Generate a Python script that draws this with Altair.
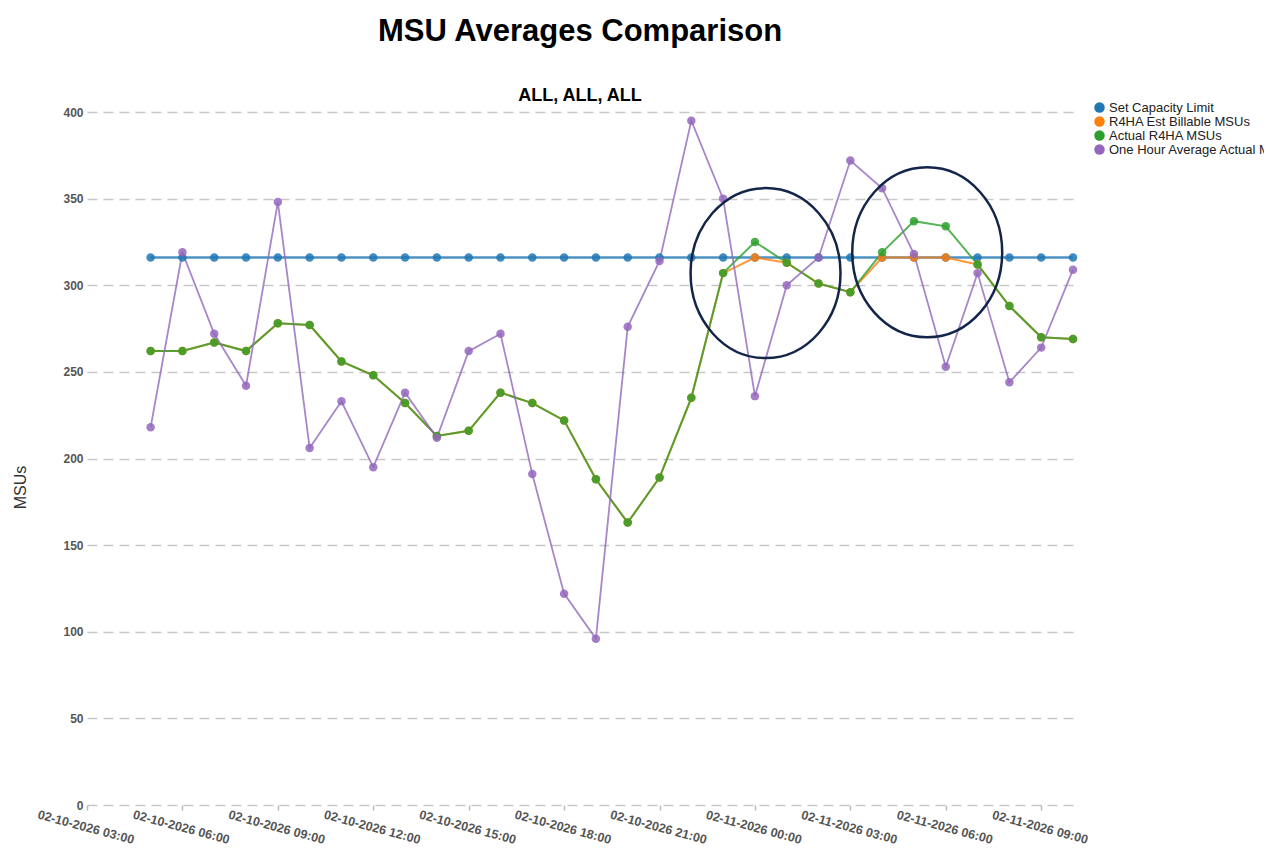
import altair as alt
import pandas as pd

# hourly timestamps 02-10-2026 05:00 .. 02-11-2026 10:00
times = pd.date_range("2026-02-10 05:00", "2026-02-11 10:00", freq="h").strftime("%Y-%m-%dT%H:%M:%S").tolist()

series_names = ["Set Capacity Limit", "R4HA Est Billable MSUs", "Actual R4HA MSUs", "One Hour Average Actual MSUs"]
series_colors = ["#1f77b4", "#ff7f0e", "#2ca02c", "#9467bd"]

capacity_limit = [316] * 30
est_billable = [262, 262, 267, 262, 278, 277, 256, 248, 232, 213,
                216, 238, 232, 222, 188, 163, 189, 235, 307, 316,
                313, 301, 296, 316, 316, 316, 312, 288, 270, 269]
actual_r4ha = [262, 262, 267, 262, 278, 277, 256, 248, 232, 213,
               216, 238, 232, 222, 188, 163, 189, 235, 307, 325,
               313, 301, 296, 319, 337, 334, 312, 288, 270, 269]
one_hour_avg = [218, 319, 272, 242, 348, 206, 233, 195, 238, 212,
                262, 272, 191, 122, 96, 276, 314, 395, 350, 236,
                300, 316, 372, 356, 318, 253, 307, 244, 264, 309]

# x-axis tick positions (every 3 hours)
tick_days = [10, 10, 10, 10, 10, 10, 10, 11, 11, 11, 11]
tick_hours = [3, 6, 9, 12, 15, 18, 21, 0, 3, 6, 9]

# annotation ellipse centres (time, MSU value)
highlight_times = ["2026-02-11T00:20:00", "2026-02-11T05:25:00"]
highlight_values = [307, 319]

all_values = [capacity_limit, est_billable, actual_r4ha, one_hour_avg]
rows = []
for name, vals in zip(series_names, all_values):
    for t, v in zip(times, vals):
        rows.append({"series": name, "time": t, "value": v})
df = pd.DataFrame(rows)
ann = pd.DataFrame({"time": highlight_times, "value": highlight_values})

tick_values = [alt.DateTime(year=2026, month=2, date=d, hours=h) for d, h in zip(tick_days, tick_hours)]

x_scale = alt.Scale(domain=[alt.DateTime(year=2026, month=2, date=10, hours=3),
                            alt.DateTime(year=2026, month=2, date=11, hours=10)])
y_scale = alt.Scale(domain=[0, 400], nice=False)

x_enc = alt.X("time:T", scale=x_scale, axis=alt.Axis(
    title=None, format="%m-%d-%Y %H:%M", values=tick_values,
    labelAngle=15, labelAlign="center", labelBaseline="top", labelPadding=11,
    tickSize=5, tickColor="#bbbbbb", tickWidth=1.5, domain=False, grid=False,
    labelFontSize=12.5, labelFontWeight="bold", labelColor="#555555",
    labelOverlap=False, labelFlush=False))
y_enc = alt.Y("value:Q", scale=y_scale, axis=alt.Axis(
    title="MSUs", values=list(range(0, 401, 50)), domain=False, ticks=False,
    labelPadding=4, gridDash=[10, 6], gridColor="#c8c8c8", gridWidth=1.5,
    labelFontSize=12, labelFontWeight="bold", labelColor="#555555",
    titleFontSize=16, titleFontWeight="normal", titleColor="#333333",
    titleX=-67, titleY=375, titleAngle=270, titleBaseline="middle"))

base = alt.Chart(df)

line_widths = [2.5, 2, 2, 1.8]
lines = []
for name, col, w in zip(series_names, series_colors, line_widths):
    lines.append(
        base.transform_filter(alt.datum.series == name)
        .mark_line(strokeWidth=w, opacity=0.8)
        .encode(x=x_enc, y=y_enc, color=alt.value(col))
    )

points = base.mark_circle(size=72, opacity=0.85).encode(
    x=x_enc, y=y_enc,
    color=alt.Color("series:N", sort=series_names,
                    scale=alt.Scale(domain=series_names, range=series_colors),
                    legend=alt.Legend(title=None, orient="none", legendX=1006, legendY=-11,
                                      symbolType="circle", symbolSize=110, symbolOpacity=1,
                                      labelFontSize=13, labelColor="#222222", rowPadding=-2,
                                      labelOffset=3, padding=0, labelLimit=400))
)

ellipse_path = "M -0.882 0 A 0.882 1 0 1 0 0.882 0 A 0.882 1 0 1 0 -0.882 0 Z"
ellipses = alt.Chart(ann).mark_point(shape=ellipse_path, size=28900, filled=False,
                                     color="#14254a", strokeWidth=2.5, opacity=1).encode(
    x=alt.X("time:T", scale=x_scale), y=alt.Y("value:Q", scale=y_scale)
)

chart = alt.layer(*lines, points, ellipses).properties(
    width=986, height=693,
    title=alt.Title("MSU Averages Comparison", subtitle="ALL, ALL, ALL",
                    fontSize=31, fontWeight="bold", color="#000000",
                    subtitleFontSize=18, subtitleFontWeight="bold", subtitleColor="#000000",
                    subtitlePadding=39, offset=-5, anchor="middle",
                    font="Liberation Sans", subtitleFont="Liberation Sans"),
    padding={"left": 79, "top": 104, "right": 191, "bottom": 45},
    autosize=alt.AutoSizeParams(type="none"),
).configure(font="Liberation Sans").configure_view(strokeWidth=0)

chart.save("out.html", embed_options={"renderer": "svg", "actions": False})
